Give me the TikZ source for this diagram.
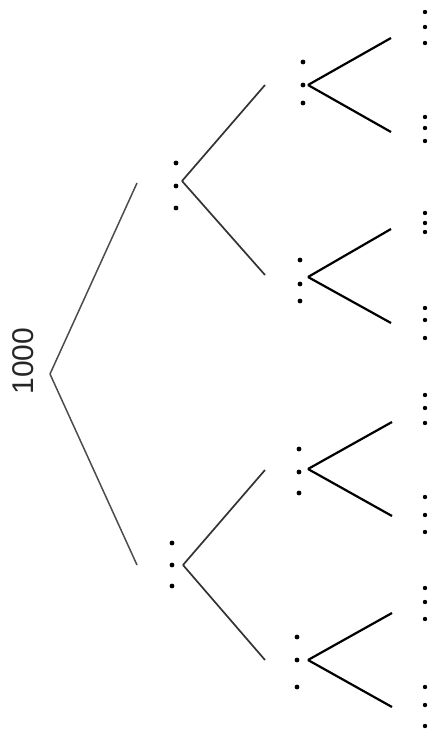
\documentclass[tikz,border=0pt]{standalone}
\usepackage{fontspec}
\setmainfont{Liberation Sans}
\usepackage{tikz}

\begin{document}
\begin{tikzpicture}[x=1pt,y=-1pt,
		root/.style={line width=1.5pt,draw=black!70},
		mid/.style={line width=1.7pt,draw=black!80},
		leaf/.style={line width=2.2pt,draw=black},
		pt/.style={fill=black}]
		\useasboundingbox (0,0) rectangle (430,741);
		%
		\node[rotate=90,inner sep=0pt,text=black!85] (N) at (23,361) {\fontsize{30}{36}\selectfont 1000};
		\coordinate (A) at (50,374);
		\coordinate (B) at (137,183);
		\coordinate (B') at (137,565);
		%
		\coordinate (C) at (182,181);
		\coordinate (C') at (183,565);
		\coordinate (D1) at (265,85);
		\coordinate (D2) at (265,275);
		\coordinate (D3) at (265,470);
		\coordinate (D4) at (265,660);
		%
		\coordinate (E1) at (308,85);
		\coordinate (E2) at (308,277);
		\coordinate (E3) at (308,469);
		\coordinate (E4) at (308,660);
		\coordinate (F1) at (391,38);
		\coordinate (F2) at (391,132);
		\coordinate (F3) at (391,229);
		\coordinate (F4) at (391,323);
		\coordinate (F5) at (392,422);
		\coordinate (F6) at (392,516);
		\coordinate (F7) at (392,613);
		\coordinate (F8) at (392,707);
		%
		\path[root]
		(A) edge (B)
		(A) edge (B');
		\path[mid]
		(C) edge (D1)
		(C) edge (D2)
		(C') edge (D3)
		(C') edge (D4);
		\path[leaf]
		(E1) edge (F1)
		(E1) edge (F2)
		(E2) edge (F3)
		(E2) edge (F4)
		(E3) edge (F5)
		(E3) edge (F6)
		(E4) edge (F7)
		(E4) edge (F8);
		%
		\foreach \x/\y in {176/163,176/186,176/208,172/543,172/565,172/586,
			303/62,303/85,303/103,300/260,300/284,300/301,
			299/449,299/472,299/493,297/637,297/660,297/687}
			\fill[pt] (\x,\y) circle (2.4);
		\foreach \y in {12,27,43,117,128,141,213,223,232,308,320,338,
			395,408,423,497,515,532,588,602,619,687,705,726}
			\fill[pt] (425,\y) circle (2.2);
	\end{tikzpicture}
\end{document}
